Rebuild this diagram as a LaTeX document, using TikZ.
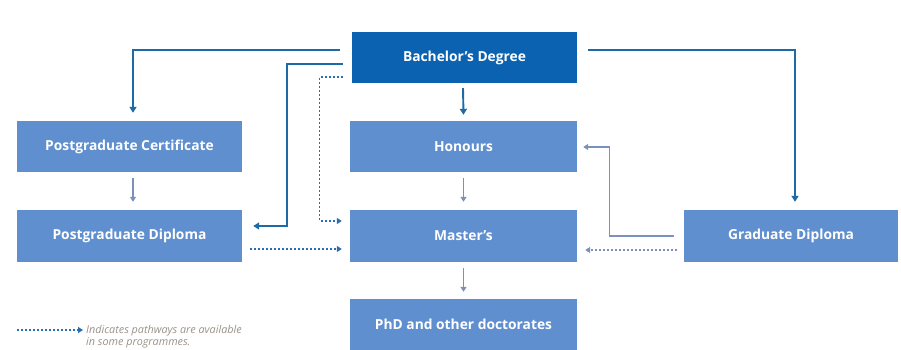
\documentclass[tikz,border=0pt]{standalone}
\usepackage{fontspec}
\setmainfont{Open Sans}
\usetikzlibrary{arrows.meta}
\definecolor{darkbox}{HTML}{0B62B0}
\definecolor{midbox}{HTML}{5F8FCF}
\definecolor{darkline}{HTML}{1D6AA8}
\definecolor{thinline}{HTML}{7C90B9}
\definecolor{dotline}{HTML}{2A6DB2}
\definecolor{legendtext}{HTML}{9A9288}
\tikzset{
  box/.style={fill=midbox, draw=none, text=white, font=\fontsize{13.8}{15}\selectfont\bfseries, minimum height=51pt, inner sep=0pt},
  darkbx/.style={box, fill=darkbox},
  mainarrow/.style={draw=darkline, line width=1.9pt, -{Triangle[length=6pt,width=7pt]}},
  thinarrow/.style={draw=thinline, line width=1.2pt, -{Triangle[length=5pt,width=6pt]}},
  dotarrow/.style={draw=dotline, line width=1.3pt, dash pattern=on 2pt off 2pt, -{Triangle[length=5pt,width=6pt]}},
  dotgrey/.style={dotarrow, draw=thinline},
}
\begin{document}
\begin{tikzpicture}[x=1pt,y=-1pt]
\useasboundingbox[fill=white] (0,0) rectangle (901,350);
% boxes
\node[darkbx, minimum width=225pt] (bach) at (464.5,57.5) {Bachelor’s Degree};
\node[box, minimum width=227pt] (hon) at (463.5,146.5) {Honours};
\node[box, minimum width=227pt, minimum height=52pt] (mas) at (463.5,236) {Master’s};
\node[box, minimum width=227pt] (phd) at (463.5,324.5) {PhD and other doctorates};
\node[box, minimum width=225pt] (pgc) at (129.5,146.5) {Postgraduate Certificate};
\node[box, minimum width=225pt, minimum height=52pt] (pgd) at (129.5,236) {Postgraduate Diploma};
\node[box, minimum width=214pt, minimum height=52pt] (gd) at (791,236) {Graduate Diploma};
% main arrows from Bachelor's
\draw[mainarrow] ([xshift=-12pt,yshift=7.5pt]bach.west) -| ([xshift=3.5pt,yshift=8pt]pgc.north);
\draw[mainarrow] ([xshift=-9pt,yshift=-6.5pt]bach.west) -- ++(-56pt,0pt) |- ([xshift=11pt,yshift=10pt]pgd.east);
\draw[dotarrow] ([xshift=-9pt,yshift=-19.5pt]bach.west) -- ++(-23pt,0pt) |- ([xshift=-8pt,yshift=15pt]mas.west);
\draw[mainarrow] ([xshift=-1.5pt,yshift=-5pt]bach.south) -- ([yshift=6pt]hon.north);
\draw[mainarrow] ([xshift=11pt,yshift=7.5pt]bach.east) -| ([xshift=4pt,yshift=8pt]gd.north);
% Graduate Diploma arrows
\draw[thinarrow] ([xshift=-10pt]gd.west) -- ++(-64pt,0pt) |- ([xshift=6pt,yshift=-0.5pt]hon.east);
\draw[dotgrey] ([xshift=-7pt,yshift=-14pt]gd.west) -- ([xshift=8pt,yshift=-14pt]mas.east);
% left column
\draw[thinarrow] ([xshift=3.5pt,yshift=-6pt]pgc.south) -- ([xshift=3.5pt,yshift=8pt]pgd.north);
\draw[dotarrow] ([xshift=8pt,yshift=-13pt]pgd.east) -- ([xshift=-8pt,yshift=-13pt]mas.west);
% centre column
\draw[thinarrow] ([yshift=-6pt]hon.south) -- ([yshift=8pt]mas.north);
\draw[thinarrow] ([yshift=-6pt]mas.south) -- ([yshift=7pt]phd.north);
% legend
\coordinate (lg1) at (17,330);
\coordinate (lg2) at (83,330);
\draw[dotarrow] (lg1) -- (lg2);
\node[anchor=west, align=left, text=legendtext, font=\fontsize{10.8}{12.5}\selectfont\itshape, inner sep=0pt] (legend) at (86,336.5) {Indicates pathways are available\\in some programmes.};
\end{tikzpicture}
\end{document}
